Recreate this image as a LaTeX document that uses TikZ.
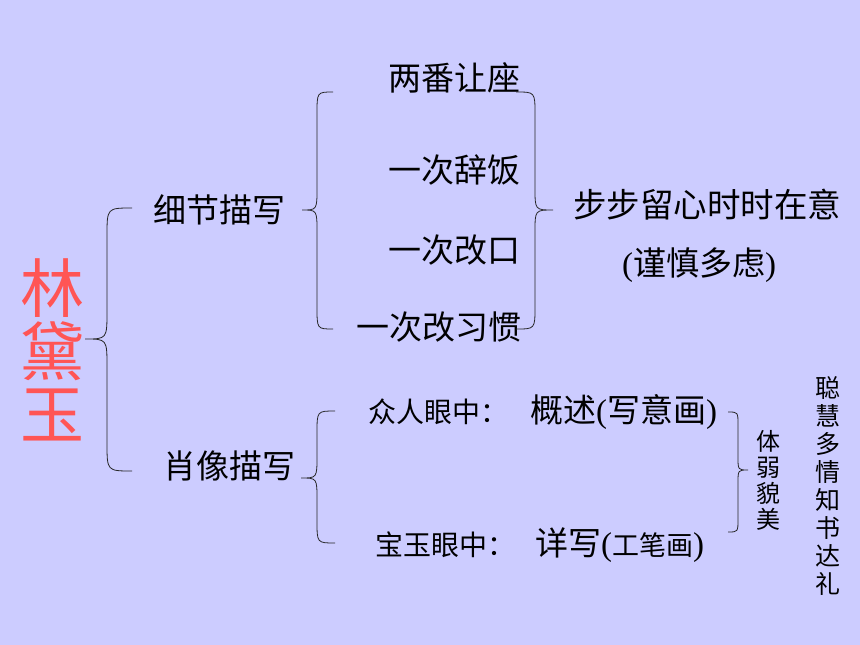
\documentclass[tikz,border=0pt]{standalone}
\usepackage{fontspec}
\setmainfont{Noto Sans CJK SC}
\newfontfamily\lserif{Liberation Serif}
\definecolor{bgcol}{RGB}{204,204,255}
\definecolor{lincol}{RGB}{255,85,85}
\newcommand\mybrace[7]{%
  \draw[bracestyle] (#1,#4) .. controls (#2,#4) .. (#2,{#4+#7}) -- (#2,{#5-#7})
    .. controls (#2,#5) .. (#3,#5) .. controls (#2,#5) .. (#2,{#5+#7})
    -- (#2,{#6-#7}) .. controls (#2,#6) .. (#1,#6);}
\newcommand\fs[1]{\fontsize{#1}{#1}\selectfont}
\begin{document}
\begin{tikzpicture}[x=1pt,y=-1pt,
  bracestyle/.style={draw=black!85,line width=0.8pt},
  txt/.style={inner sep=0pt,anchor=west,font=\fs{33}},
  vtxt/.style={inner sep=0pt,align=center}]
\fill[bgcol] (0,0) rectangle (860,645);
\useasboundingbox (0,0) rectangle (860,645);
% title
\node[vtxt,text=lincol,font=\fontsize{64}{63}\selectfont] (lin) at (52,350) {林\\黛\\玉};
% level 1
\node[txt] (xijie) at (153,210) {细节描写};
\node[txt] (xiaox) at (163,466) {肖像描写};
% level 2 top
\node[txt] (a1) at (388,78) {两番让座};
\node[txt] (a2) at (388,170) {一次辞饭};
\node[txt] (a3) at (388,250) {一次改口};
\node[txt] (a4) at (356,327) {一次改习惯};
\node[txt,font=\fs{33.5}] (r1) at (573,205) {步步留心时时在意};
\node[inner sep=0pt,font=\fs{33}] (r2) at (699,265) {{\lserif(}谨慎多虑{\lserif)}};
% level 2 bottom
\node[txt] (b1) at (368,412) {{\fs{28}众人眼中：}\hspace{22pt}概述{\lserif(}写意画{\lserif)}};
\node[txt] (b2) at (375,545) {{\fs{28}宝玉眼中：}\hspace{20pt}详写{\lserif(}{\fs{27}工笔画}{\lserif)}};
\node[vtxt,font=\fontsize{24}{26}\selectfont] (t1) at (768,480) {体\\弱\\貌\\美};
\node[vtxt,font=\fontsize{25}{28}\selectfont] (t2) at (828,486) {聪\\慧\\多\\情\\知\\书\\达\\礼};
% braces
\mybrace{132}{107}{85}{208}{339}{471}{28}
\mybrace{333}{317}{302}{92}{210}{329}{22}
\mybrace{516}{535}{553}{92}{210}{329}{22}
\mybrace{335}{317}{301}{411}{478}{543}{22}
\mybrace{728}{738}{748}{412}{470}{532}{13}
\end{tikzpicture}
\end{document}
